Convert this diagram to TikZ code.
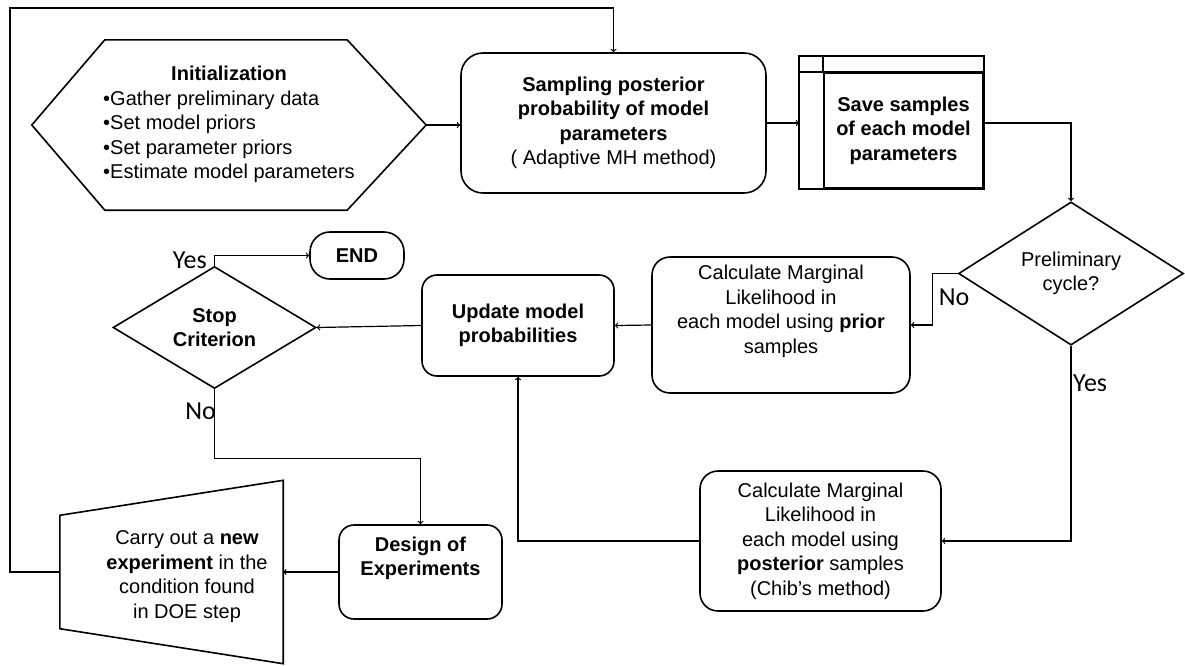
\documentclass[tikz,border=0pt]{standalone}
\usepackage{fontspec}
\setmainfont{Liberation Sans}
\newfontfamily\answerfont{Carlito}
\usepackage{tikz}
\usetikzlibrary{positioning,calc,shapes.geometric}

\tikzset{
  box/.style={draw, line width=1.6pt, rounded corners=18pt, align=center, inner sep=2pt, font=\fontsize{20}{24.5}\selectfont},
  decision/.style={draw, diamond, line width=1.6pt, inner sep=0pt, align=center, font=\fontsize{20}{24.5}\selectfont},
  plain/.style={align=center, inner sep=0pt, font=\fontsize{20}{24.5}\selectfont},
  outline/.style={line width=1.6pt},
  flow/.style={line width=1.2pt, ->},
  answer/.style={inner sep=0pt, font=\answerfont\fontsize{26}{26}\selectfont},
}

\begin{document}
\begin{tikzpicture}[x=1pt, y=-1pt]
        \useasboundingbox (0,0) rectangle (1185,665);

        \node[plain, minimum width=394pt, minimum height=170pt] (init) at (229,125) {\begin{tabular}{@{}l@{}}\multicolumn{1}{@{}c@{}}{\textbf{Initialization}}\\ •Gather preliminary data\\ •Set model priors\\ •Set parameter priors\\ •Estimate model parameters\end{tabular}};
        \node[box, minimum width=305pt, minimum height=140pt, rounded corners=22pt] (samp) at (613.5,123) {\textbf{Sampling posterior}\\ \textbf{probability of model}\\ \textbf{parameters}\\ ( Adaptive MH method)};
        \node[draw, plain, line width=1.6pt, minimum width=159pt, minimum height=115pt] (save) at (903.5,130.5) {\textbf{Save samples}\\ \textbf{of each model}\\ \textbf{parameters}};
        \node[decision, minimum width=225pt, minimum height=141pt] (prelim) at (1071,273.5) {Preliminary\\ cycle?};
        \node[box, minimum width=258pt, minimum height=136pt] (calcprior) at (781,325) {Calculate Marginal\\ Likelihood in\\ each model using \textbf{prior}\\ samples\\ \strut};
        \node[box, minimum width=192pt, minimum height=101pt, rounded corners=15pt] (upd) at (518,325.5) {\textbf{Update model}\\ \textbf{probabilities}};
        \node[decision, minimum width=203pt, minimum height=121pt] (stop) at (214.5,327.5) {\textbf{Stop}\\ \textbf{Criterion}};
        \node[box, minimum width=94pt, minimum height=47pt, rounded corners=20pt] (endn) at (357,255.5) {\textbf{END}};
        \node[box, minimum width=163pt, minimum height=94pt, rounded corners=15pt] (doe) at (420.5,572) {\textbf{Design of}\\ \textbf{Experiments}\\ \strut};
        \node[inner sep=0pt, minimum width=223pt, minimum height=183pt] (exp) at (171.5,572) {};
        \node[plain] (exptext) at (187,576.5) {Carry out a \textbf{new}\\ \textbf{experiment} in the\\ condition found\\ in DOE step};
        \node[box, minimum width=241pt, minimum height=140pt] (post) at (820.5,541) {Calculate Marginal\\ Likelihood in\\ each model using\\ \textbf{posterior} samples\\ (Chib's method)};

        \draw[outline] (init.west) -- ($(init.north west)+(73,0)$) -- ($(init.north east)+(-79,0)$) -- (init.east) -- ($(init.south east)+(-79,0)$) -- ($(init.south west)+(73,0)$) -- cycle;
        \draw[outline] ($(save.north west)+(-24,-16)$) rectangle (save.south east);
        \draw[outline] ($(save.north west)+(-24,0)$) -- (save.north east);
        \draw[outline] (save.north west) -- ++(0,-16);
        \draw[outline] ($(exp.north west)+(0,35)$) -- (exp.north east) -- (exp.south east) -- ($(exp.south west)+(0,-35)$) -- cycle;

        \coordinate (saveL) at ($(save.west)+(-24,0)$);
        \coordinate (corner) at (10,8);

        \node[answer, anchor=east] (yesstop) at ($(stop.north)+(-7.5,-5)$) {Yes};
        \node[answer, anchor=east] (nostop) at ($(stop.south)+(1.5,22)$) {No};
        \node[answer, anchor=west] (noprelim) at ($(prelim.west)+(-19,23.5)$) {No};
        \node[answer, anchor=west] (yesprelim) at ($(prelim.south)+(2,37.5)$) {Yes};

        \draw[flow] (init.east) -- (init.east -| samp.west);
        \draw[flow] (samp.east) -- (samp.east -| saveL);
        \draw[flow] (samp.east -| save.east) -| (prelim.north);
        \draw[flow] (prelim.west) -- ++(-25,0) |- (calcprior.east);
        \draw[flow] (calcprior.west) -- (upd.east);
        \draw[flow] (upd.west) -- (stop.east);
        \draw[flow] (stop.north) |- (endn.west);
        \draw[flow] (stop.south) -- ++(0,69) -| (doe.north);
        \draw[flow] (doe.west) -- (doe.west -| exp.east);
        \draw[flow] (exp.west) -| (corner) -| (samp.north);
        \draw[flow] (prelim.south) |- (post.east);
        \draw[flow] (post.west) -| (upd.south);
      \end{tikzpicture}
\end{document}
